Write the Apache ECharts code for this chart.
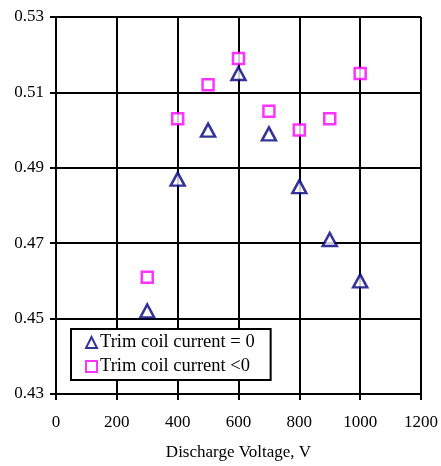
<!DOCTYPE html>
<html>
<head>
<meta charset="utf-8">
<script src="https://cdn.jsdelivr.net/npm/echarts@6/dist/echarts.min.js"></script>
<style>
  html, body { margin: 0; padding: 0; background: #fff; }
  #main { width: 441px; height: 466px; }
</style>
</head>
<body>
<div id="main"></div>
<script>
var voltages = [300, 400, 500, 600, 700, 800, 900, 1000];
var trimZero = [0.452, 0.487, 0.500, 0.515, 0.499, 0.485, 0.471, 0.460];
var trimNeg = [0.461, 0.503, 0.512, 0.519, 0.505, 0.500, 0.503, 0.515];
var seriesNames = ['Trim coil current = 0', 'Trim coil current <0'];

function pairs(xs, ys) {
  return xs.map(function (x, i) { return [x, ys[i]]; });
}

var font = 'Liberation Serif';
var chart = echarts.init(document.getElementById('main'));

chart.setOption({
  animation: false,
  textStyle: { fontFamily: font, color: '#000' },
  grid: { left: 56, right: 20, top: 17, bottom: 72 },
  xAxis: {
    type: 'value',
    min: 0, max: 1200, interval: 200,
    name: 'Discharge Voltage, V',
    nameLocation: 'middle',
    nameGap: 50,
    nameTextStyle: { fontFamily: font, fontSize: 17, color: '#000' },
    axisLine: { lineStyle: { color: '#000', width: 2 } },
    axisTick: { show: true, length: 6, lineStyle: { color: '#000', width: 2 } },
    axisLabel: {
      fontFamily: font, fontSize: 17, color: '#000', margin: 20,
      formatter: function (v) { return String(v); }
    },
    splitLine: { show: true, lineStyle: { color: '#000', width: 2 } }
  },
  yAxis: {
    type: 'value',
    min: 0.43, max: 0.53, interval: 0.02,
    axisLine: { show: true, lineStyle: { color: '#000', width: 2 } },
    axisTick: { show: true, length: 6, lineStyle: { color: '#000', width: 2 } },
    axisLabel: {
      fontFamily: font, fontSize: 17, color: '#000', margin: 12,
      formatter: function (v) { return v.toFixed(2); }
    },
    splitLine: { show: true, lineStyle: { color: '#000', width: 2 } }
  },
  legend: {
    orient: 'vertical',
    left: 71, top: 329,
    backgroundColor: '#fff',
    borderColor: '#000',
    borderWidth: 2,
    borderRadius: 0,
    padding: [4, 16, 4, 14],
    itemGap: 5,
    itemWidth: 11,
    itemHeight: 11,
    textStyle: { fontFamily: font, fontSize: 18.5, color: '#000', padding: [0, 0, 0, -2] },
    data: seriesNames
  },
  series: [
    {
      name: seriesNames[0],
      type: 'scatter',
      symbol: 'triangle',
      symbolSize: [14, 13],
      itemStyle: { color: '#fff', borderColor: '#000080', borderWidth: 2.5 },
      data: pairs(voltages, trimZero),
      z: 3
    },
    {
      name: seriesNames[1],
      type: 'scatter',
      symbol: 'rect',
      symbolSize: 11,
      itemStyle: { color: '#fff', borderColor: '#ff00ff', borderWidth: 2.5 },
      data: pairs(voltages, trimNeg),
      z: 2
    }
  ]
});
</script>
</body>
</html>
